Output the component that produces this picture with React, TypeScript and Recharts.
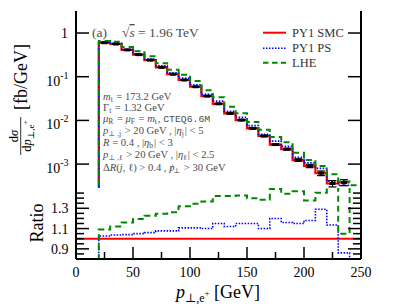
import React from 'react';
import { ComposedChart, Line, XAxis, YAxis, Scatter, ErrorBar, ReferenceLine } from 'recharts';

// ---------- data ----------
const binLow = [20, 30, 40, 50, 60, 70, 80, 90, 100, 110, 120, 130, 140, 150, 160, 170, 180, 190, 200, 210, 220, 230];
const binWidth = 10;
const smc = [0.6, 0.56, 0.41, 0.32, 0.24, 0.164, 0.114, 0.084, 0.059, 0.036, 0.024, 0.0145, 0.0102, 0.0066, 0.0044, 0.0028, 0.0022, 0.00124, 0.00091, 0.00062, 0.00036, 0.00038];
const smcErr = [0.004, 0.004, 0.003, 0.003, 0.002, 0.0016, 0.0013, 0.001, 0.0008, 0.0006, 0.0005, 0.0004, 0.0003, 0.00022, 0.00016, 0.00012, 0.0001, 0.00008, 0.00008, 0.000075, 0.00006, 0.00006];
const ps = [0.616, 0.581, 0.426, 0.336, 0.254, 0.177, 0.123, 0.093, 0.0653, 0.0396, 0.0276, 0.0162, 0.01173, 0.00759, 0.00484, 0.00336, 0.00255, 0.001426, 0.001074, 0.0008, 0.000409, 0.000327];
const lhe = [0.654, 0.627, 0.476, 0.382, 0.294, 0.2045, 0.1436, 0.1109, 0.0793, 0.0492, 0.0341, 0.0206, 0.01456, 0.00924, 0.00609, 0.00417, 0.00318, 0.00182, 0.00125, 0.0009, 0.000583, 0.0004];
const lheExtraLow = [240];
const lheExtra = [0.00033];
const ratioPS = [1.027, 1.037, 1.04, 1.05, 1.06, 1.077, 1.077, 1.107, 1.107, 1.1, 1.15, 1.12, 1.15, 1.15, 1.1, 1.2, 1.16, 1.15, 1.18, 1.29, 1.135, 0.86];
const ratioLHE = [1.09, 1.12, 1.16, 1.194, 1.227, 1.247, 1.26, 1.32, 1.344, 1.367, 1.42, 1.42, 1.427, 1.4, 1.384, 1.49, 1.444, 1.467, 1.377, 1.454, 1.62, 1.05];
const ratioLHEExtra = [3];

const xTicks = [0, 25, 50, 75, 100, 125, 150, 175, 200, 225, 250];
const xTickLabels = [0, 50, 100, 150, 200, 250];
const logTicks = [0.001, 0.01, 0.1, 1];
const ratioTicks = [0.85, 0.9, 0.95, 1, 1.05, 1.1, 1.15, 1.2, 1.25, 1.3, 1.35, 1.4, 1.45];
const ratioTickLabels = [0.9, 1.1, 1.3];

// ---------- helpers ----------
const LOG_FLOOR = 1e-6;
function histo(lows: number[], vals: number[], floor: number, tail?: number) {
  const pts: { x: number; v: number }[] = [{ x: lows[0], v: floor }];
  lows.forEach((b, i) => pts.push({ x: b, v: vals[i] }));
  pts.push({ x: lows[lows.length - 1] + binWidth, v: tail === undefined ? vals[vals.length - 1] : tail });
  return pts;
}

const smcTop = histo(binLow, smc, LOG_FLOOR);
const psTop = histo(binLow, ps, LOG_FLOOR);
const lheTop = histo([...binLow, ...lheExtraLow], [...lhe, ...lheExtra], LOG_FLOOR);
const psRatio = histo(binLow, ratioPS, 0, 0);
const lheRatio = histo([...binLow, ...lheExtraLow], [...ratioLHE, ...ratioLHEExtra], 0);
const markers = binLow.map((b, i) => ({ x: b + binWidth / 2, v: smc[i], err: smcErr[i] }));

const SERIF = "'Liberation Serif', 'DejaVu Serif', serif";
const MONO = "'Liberation Mono', 'DejaVu Sans Mono', monospace";
const GRAY = '#4d4d4d';
const RED = '#ff0000';
const BLUE = '#0000ff';
const GREEN = '#008800';
const FRAME = { stroke: '#000', strokeWidth: 2 };

const xTick = (dir: number, label: boolean) => (p: any) => {
  const v = Number(p.payload.value);
  const major = v % 50 === 0;
  return (
    <g>
      <line x1={p.x} x2={p.x} y1={p.y} y2={p.y + dir * (major ? 12 : 7)} stroke="#000" strokeWidth={1.5} />
      {label && xTickLabels.includes(v) ? (
        <text x={p.x} y={p.y + 18} textAnchor="middle" fontFamily={SERIF} fontSize={14} fill="#000">
          {v}
        </text>
      ) : null}
    </g>
  );
};

const logTick = (dir: number, label: boolean) => (p: any) => {
  const v = Number(p.payload.value);
  const e = Math.round(Math.log10(v));
  return (
    <g>
      <line x1={p.x} x2={p.x + dir * 13} y1={p.y} y2={p.y} stroke="#000" strokeWidth={1.5} />
      {label ? (
        e === 0 ? (
          <text x={p.x - 8} y={p.y + 5} textAnchor="end" fontFamily={SERIF} fontSize={14} fill="#000">1</text>
        ) : (
          <text x={p.x - 7.5} y={p.y + 9} textAnchor="end" fontFamily={SERIF} fontSize={14} fill="#000">
            10<tspan dy={-7} fontSize={10}>{'-' + Math.abs(e)}</tspan>
          </text>
        )
      ) : null}
    </g>
  );
};

const ratioTick = (dir: number, label: boolean) => (p: any) => {
  const v = Number(p.payload.value);
  const major = ratioTickLabels.some((t) => Math.abs(t - v) < 1e-6);
  return (
    <g>
      <line x1={p.x} x2={p.x + dir * (major ? 13 : 8)} y1={p.y} y2={p.y} stroke="#000" strokeWidth={1.5} />
      {label && major ? (
        <text x={p.x - 7.5} y={p.y + 5} textAnchor="end" fontFamily={SERIF} fontSize={14} fill="#000">
          {v.toFixed(1)}
        </text>
      ) : null}
    </g>
  );
};

const Marker = (p: any) => <rect x={p.cx - 3} y={p.cy - 1.5} width={6} height={3} fill="#000" />;

const TopPanel = () => (
  <ComposedChart width={407} height={188} margin={{ top: 11, right: 0, bottom: 0, left: 0 }}>
    <XAxis xAxisId="b" dataKey="x" type="number" domain={[0, 250]} allowDataOverflow ticks={xTicks} interval={0}
      height={0} tickSize={0} tickMargin={0} tickLine={false} axisLine={FRAME} tick={xTick(-1, false)} />
    <XAxis xAxisId="t" orientation="top" dataKey="x" type="number" domain={[0, 250]} allowDataOverflow ticks={xTicks} interval={0}
      height={0} tickSize={0} tickMargin={0} tickLine={false} axisLine={FRAME} tick={xTick(1, false)} />
    <YAxis yAxisId="l" type="number" scale="log" domain={[0.000284, 3.19]} allowDataOverflow ticks={logTicks} interval={0}
      width={76} tickSize={0} tickMargin={0} tickLine={false} axisLine={FRAME} tick={logTick(1, true)} />
    <YAxis yAxisId="r" orientation="right" type="number" scale="log" domain={[0.000284, 3.19]} allowDataOverflow ticks={logTicks} interval={0}
      width={46} tickSize={0} tickMargin={0} tickLine={false} axisLine={FRAME} tick={logTick(-1, false)} />
    <Line xAxisId="b" yAxisId="l" data={smcTop} dataKey="v" type="stepAfter" stroke={RED} strokeWidth={2.2} dot={false} activeDot={false} isAnimationActive={false} />
    <Line xAxisId="b" yAxisId="l" data={psTop} dataKey="v" type="stepAfter" stroke={BLUE} strokeWidth={1.6} strokeDasharray="1.5 1.5" dot={false} activeDot={false} isAnimationActive={false} />
    <Line xAxisId="b" yAxisId="l" data={lheTop} dataKey="v" type="stepAfter" stroke={GREEN} strokeWidth={2} strokeDasharray="6 4" dot={false} activeDot={false} isAnimationActive={false} />
    <Scatter xAxisId="b" yAxisId="l" data={markers} dataKey="v" shape={Marker} isAnimationActive={false}>
      <ErrorBar dataKey="err" direction="y" width={4} stroke="#000" strokeWidth={1.2} isAnimationActive={false} />
    </Scatter>
  </ComposedChart>
);

const RatioPanel = () => (
  <ComposedChart width={407} height={120} margin={{ top: 0, right: 0, bottom: 0, left: 0 }}>
    <XAxis xAxisId="b" dataKey="x" type="number" domain={[0, 250]} allowDataOverflow ticks={xTicks} interval={0}
      height={49} tickSize={0} tickMargin={0} tickLine={false} axisLine={FRAME} tick={xTick(-1, true)} />
    <XAxis xAxisId="t" orientation="top" dataKey="x" type="number" domain={[0, 250]} allowDataOverflow ticks={xTicks} interval={0}
      height={0} tickSize={0} tickMargin={0} tickLine={false} axisLine={FRAME} tick={xTick(1, false)} />
    <YAxis yAxisId="l" type="number" domain={[0.8, 1.5]} allowDataOverflow ticks={ratioTicks} interval={0}
      width={76} tickSize={0} tickMargin={0} tickLine={false} axisLine={FRAME} tick={ratioTick(1, true)} />
    <YAxis yAxisId="r" orientation="right" type="number" domain={[0.8, 1.5]} allowDataOverflow ticks={ratioTicks} interval={0}
      width={46} tickSize={0} tickMargin={0} tickLine={false} axisLine={FRAME} tick={ratioTick(-1, false)} />
    <ReferenceLine xAxisId="b" yAxisId="l" y={1} stroke={RED} strokeWidth={2} />
    <Line xAxisId="b" yAxisId="l" data={psRatio} dataKey="v" type="stepAfter" stroke={BLUE} strokeWidth={1.6} strokeDasharray="1.5 1.5" dot={false} activeDot={false} isAnimationActive={false} />
    <Line xAxisId="b" yAxisId="l" data={lheRatio} dataKey="v" type="stepAfter" stroke={GREEN} strokeWidth={2} strokeDasharray="6 4" dot={false} activeDot={false} isAnimationActive={false} />
  </ComposedChart>
);

const Sub = ({ children, size = 7.5, dy = 2 }: any) => (
  <>
    <tspan dy={dy} fontSize={size} fontStyle="normal">{children}</tspan>
    <tspan dy={-dy}>{'\u200a'}</tspan>
  </>
);

const Overlay = () => (
  <svg width={407} height={308} style={{ position: 'absolute', left: 0, top: 0, pointerEvents: 'none' }}>
    {/* panel annotations */}
    <g fontFamily={SERIF} fill={GRAY}>
      <text x={92} y={37} fontSize={13.5}>(a)</text>
      <text x={122} y={37} fontSize={13.5}>
        √<tspan fontStyle="italic" textDecoration="overline">s</tspan> = 1.96 TeV
      </text>
      <g fontSize={10.6}>
        <text x={103} y={99.5}>
          <tspan fontStyle="italic">m</tspan><Sub>t</Sub> = 173.2 GeV
        </text>
        <text x={103} y={110.5}>
          Γ<Sub>t</Sub> = 1.32 GeV
        </text>
        <text x={103} y={122}>
          <tspan fontStyle="italic">μ</tspan><Sub>R</Sub> = <tspan fontStyle="italic">μ</tspan><Sub>F</Sub> = <tspan fontStyle="italic">m</tspan><Sub>t</Sub>, <tspan fontFamily={MONO} fontSize={9.8}>CTEQ6.6M</tspan>
        </text>
        <text x={103} y={134}>
          <tspan fontStyle="italic">p</tspan><Sub>⊥ ,j</Sub> &gt; 20 GeV , |<tspan fontStyle="italic">η</tspan><Sub>j</Sub>| &lt; 5
        </text>
        <text x={103} y={146}>
          <tspan fontStyle="italic">R</tspan> = 0.4 , |<tspan fontStyle="italic">η</tspan><Sub>b</Sub>| &lt; 3
        </text>
        <text x={103} y={158}>
          <tspan fontStyle="italic">p</tspan><Sub>⊥ ,ℓ</Sub> &gt; 20 GeV , |<tspan fontStyle="italic">η</tspan><Sub>ℓ</Sub>| &lt; 2.5
        </text>
        <text x={103} y={171}>
          Δ<tspan fontStyle="italic">R</tspan>(<tspan fontStyle="italic">j</tspan>, ℓ) &gt; 0.4 , <tspan fontStyle="italic">p</tspan><tspan dx={-4.2}>/</tspan><Sub>⊥</Sub> &gt; 30 GeV
        </text>
      </g>
    </g>
    {/* legend */}
    <g fontFamily={SERIF} fontSize={12.5} fill="#333">
      <line x1={263} x2={286} y1={32.7} y2={32.7} stroke={RED} strokeWidth={2} />
      <text x={292} y={36.8}>PY1 SMC</text>
      <line x1={263} x2={286} y1={48.3} y2={48.3} stroke={BLUE} strokeWidth={1.6} strokeDasharray="1.5 1.5" />
      <text x={292} y={52.4}>PY1 PS</text>
      <line x1={263} x2={286} y1={62.7} y2={62.7} stroke={GREEN} strokeWidth={2} strokeDasharray="5.5 3.5" />
      <text x={292} y={66.8}>LHE</text>
    </g>
    {/* axis titles */}
    <g fontFamily={SERIF} fill="#000" transform="rotate(-90)">
      <text x={-110} y={27} fontSize={18}>[fb/GeV]</text>
      <text x={-136} y={17.5} fontSize={12.5} textAnchor="middle">
        d<tspan fontStyle="italic">σ</tspan>
      </text>
      <line x1={-155} x2={-117} y1={20.7} y2={20.7} stroke="#000" strokeWidth={0.8} />
      <text x={-136} y={30.5} fontSize={12.5} textAnchor="middle">
        d<tspan fontStyle="italic">p</tspan><tspan dy={3} fontSize={9}>⊥,e</tspan><tspan dy={-6} fontSize={7.5}>+</tspan>
      </text>
      <text x={-223} y={43} fontSize={18} textAnchor="middle">Ratio</text>
    </g>
    <text x={218} y={298} fontFamily={SERIF} fontSize={18} fill="#000" textAnchor="middle">
      <tspan fontStyle="italic">p</tspan><tspan dy={4} fontSize={12}>⊥,e</tspan><tspan dy={-6} fontSize={9}>+</tspan><tspan dy={2}> [GeV]</tspan>
    </text>
  </svg>
);

export default function App() {
  return (
    <div style={{ position: 'absolute', left: 0, top: 0, width: 407, height: 308, background: '#fff', overflow: 'hidden' }}>
      <div style={{ position: 'absolute', left: 0, top: 0 }}>
        <TopPanel />
      </div>
      <div style={{ position: 'absolute', left: 0, top: 188 }}>
        <RatioPanel />
      </div>
      <Overlay />
    </div>
  );
}
